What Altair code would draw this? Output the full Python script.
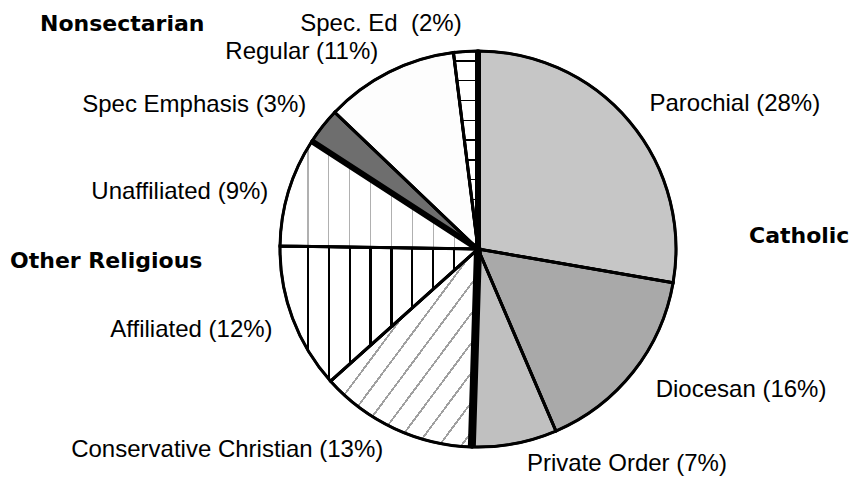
import altair as alt
import pandas as pd

# ---- data ----
categories = ["Parochial", "Diocesan", "Private Order", "Conservative Christian",
              "Affiliated", "Unaffiliated", "Spec Emphasis", "Regular", "Spec. Ed"]
values = [28, 16, 7, 13, 12, 9, 3, 11, 2]
labels = ["Parochial (28%)", "Diocesan (16%)", "Private Order (7%)",
          "Conservative Christian (13%)", "Affiliated (12%)", "Unaffiliated (9%)",
          "Spec Emphasis (3%)", "Regular (11%)", "Spec. Ed\u00a0 (2%)"]
groups = ["Catholic", "Catholic", "Catholic",
          "Other Religious", "Other Religious", "Other Religious",
          "Nonsectarian", "Nonsectarian", "Nonsectarian"]
group_names = ["Catholic", "Other Religious", "Nonsectarian"]

df = pd.DataFrame({"category": categories, "value": values, "label": labels, "group": groups})
total = int(sum(values))
df["end"] = df["value"].cumsum()
df["start"] = df["end"] - df["value"]
df["mid"] = (df["start"] + df["end"]) / 2

R = 198
theta_scale = alt.Scale(domain=[0, total], nice=False, zero=False)


def stripes(positions, width, color, bg, x1, y1, x2, y2):
    stops = [alt.GradientStop(offset=0, color=bg)]
    for p in positions:
        a = max(0.0, p - width / 2)
        b = min(1.0, p + width / 2)
        stops += [alt.GradientStop(offset=a, color=bg),
                  alt.GradientStop(offset=a, color=color),
                  alt.GradientStop(offset=b, color=color),
                  alt.GradientStop(offset=b, color=bg)]
    stops.append(alt.GradientStop(offset=1, color=bg))
    return alt.LinearGradient(gradient="linear", stops=stops, x1=x1, y1=y1, x2=x2, y2=y2)


vert = [0.141 + k * 0.1055 for k in range(9)]
diag = [0.04 + k * 0.075 for k in range(13)]
ladder = [0.05 + k * 0.1 for k in range(10)]

fills = {
    "Parochial": "#c6c6c6",
    "Diocesan": "#a9a9a9",
    "Private Order": "#c0c0c0",
    "Conservative Christian": stripes(diag, 0.008, "#a0a0a0", "#ffffff", 0, 0, 1, 1),
    "Affiliated": stripes(vert, 0.011, "#000000", "#ffffff", 0, 0, 1, 0),
    "Unaffiliated": stripes(vert, 0.006, "#b0b0b0", "#ffffff", 0, 0, 1, 0),
    "Spec Emphasis": "#6e6e6e",
    "Regular": "#fdfdfd",
    "Spec. Ed": stripes(ladder, 0.008, "#000000", "#ffffff", 0, 0, 0, 1),
}

base = alt.Chart(df)

layers = []
for cat in categories:
    layers.append(
        base.transform_filter(alt.datum.category == cat)
        .mark_arc(outerRadius=R, fill=fills[cat], stroke="black", strokeWidth=2.5)
        .encode(theta=alt.Theta("start:Q", scale=theta_scale, stack=None),
                theta2="end:Q")
    )

# heavy black separators
thick = (
    base.transform_filter(alt.FieldOneOfPredicate(field="category",
                                                  oneOf=["Parochial", "Spec Emphasis"]))
    .mark_arc(outerRadius=R, filled=False, stroke="black", strokeWidth=6)
    .encode(theta=alt.Theta("start:Q", scale=theta_scale, stack=None), theta2="start:Q")
)
thick2 = (
    base.transform_filter(alt.datum.category == "Conservative Christian")
    .mark_arc(outerRadius=R, filled=False, stroke="black", strokeWidth=8)
    .encode(theta=alt.Theta("start:Q", scale=theta_scale, stack=None), theta2="start:Q")
)
# outer rim
rim = (
    base.mark_arc(outerRadius=R, filled=False, stroke="black", strokeWidth=3)
    .encode(theta=alt.Theta("start:Q", scale=theta_scale, stack=None), theta2="end:Q")
)

LABEL_FONT = "Liberation Sans"
LABEL_SIZE = 24


def label_layer(cats, align, dx, dy):
    return (
        base.transform_filter(alt.FieldOneOfPredicate(field="category", oneOf=cats))
        .mark_text(radius=215, align=align, baseline="alphabetic", dx=dx, dy=dy,
                   font=LABEL_FONT, fontSize=LABEL_SIZE, color="black")
        .encode(theta=alt.Theta("mid:Q", scale=theta_scale, stack=None), text="label:N")
    )


lab1 = label_layer(["Parochial"], "left", 7, 0)
lab2 = label_layer(["Diocesan"], "left", 9, 15)
lab2b = label_layer(["Private Order"], "left", 9, 11)
lab3 = label_layer(["Spec Emphasis"], "right", -3, -4)
lab3b = label_layer(["Regular"], "right", -3, 2)
lab3c = label_layer(["Spec. Ed"], "right", -3, -3)
lab4 = label_layer(["Conservative Christian", "Affiliated", "Unaffiliated"], "right", -4, 13)

head_df = pd.DataFrame({"name": group_names})


def heading(name, x, y):
    return (
        alt.Chart(head_df).transform_filter(alt.datum.name == name)
        .mark_text(align="left", baseline="alphabetic", font="DejaVu Sans",
                   fontWeight="bold", fontSize=22, color="black")
        .encode(x=alt.value(x), y=alt.value(y), text="name:N")
    )


h1 = heading("Catholic", 642, 222)
h2 = heading("Other Religious", -97, 247)
h3 = heading("Nonsectarian", -67, 10)

chart = (
    alt.layer(*layers, rim, thick, thick2, lab1, lab2, lab2b, lab3, lab3b, lab3c,
              lab4, h1, h2, h3)
    .properties(width=742, height=456,
                padding={"left": 99, "top": 13, "right": 0, "bottom": 0},
                autosize=alt.AutoSizeParams(type="none"),
                background="white")
    .configure_view(strokeWidth=0)
)

chart.save("out.html", embed_options={"renderer": "svg", "actions": False})
